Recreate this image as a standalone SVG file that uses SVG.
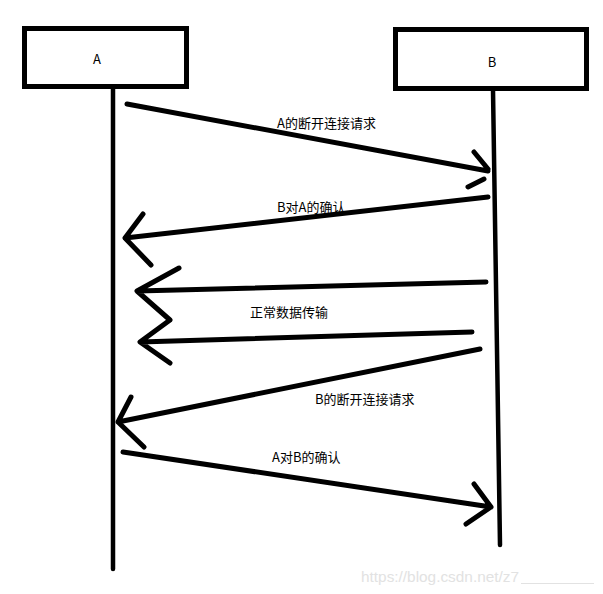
<svg xmlns="http://www.w3.org/2000/svg" width="603" height="594" viewBox="0 0 603 594">
<style>
.box{fill:#fff;stroke:#000;stroke-width:5}
.ln{fill:none;stroke:#000;stroke-width:5;stroke-linecap:round;stroke-linejoin:round}
.life{fill:none;stroke:#000;stroke-width:4.5;stroke-linecap:round}
.t{font-family:"Microsoft YaHei","Noto Sans CJK SC",sans-serif;font-size:13px;fill:#000}
.wm{font-family:"Liberation Sans",Arial,sans-serif;font-size:15px;fill:#e2e2e2}
</style>
<rect width="603" height="594" fill="#fff"/>
<g id="nodeA">
<rect class="box" x="24.5" y="28.5" width="162" height="58"/>
<text class="t" x="97" y="64" text-anchor="middle">A</text>
<line class="life" x1="113" y1="89" x2="113" y2="569"/>
</g>
<g id="nodeB">
<rect class="box" x="395.5" y="29.5" width="191" height="59"/>
<text class="t" x="492" y="67" text-anchor="middle">B</text>
<line class="life" x1="493" y1="90" x2="500" y2="545"/>
</g>
<g id="connectors">
<path class="ln" d="M127,104 L488,171 M474,152 L488,169 M468,187 L484,179"/>
<path class="ln" d="M488,197 L125,238 M143,214 L125,238 L151,265"/>
<path class="ln" d="M486,282 L137,291 M179,268 L137,291 L170,320 L140,342 L170,363 M472,332 L140,342"/>
<path class="ln" d="M480,349 L118,422 M131,397 L118,422 L144,447"/>
<path class="ln" d="M123,452 L491,507 M474,484 L491,507 L466,524"/>
</g>
<g id="labels">
<text class="t" x="277" y="128">A的断开连接请求</text>
<text class="t" x="277" y="212">B对A的确认</text>
<text class="t" x="250" y="317">正常数据传输</text>
<text class="t" x="315" y="404">B的断开连接请求</text>
<text class="t" x="272" y="462">A对B的确认</text>
</g>
<g id="watermark">
<text class="wm" x="361" y="582" textLength="158" lengthAdjust="spacingAndGlyphs">https://blog.csdn.net/z7</text>
<line x1="521" y1="583.5" x2="594" y2="583.5" stroke="#e2e2e2" stroke-width="1"/>
</g>
</svg>
